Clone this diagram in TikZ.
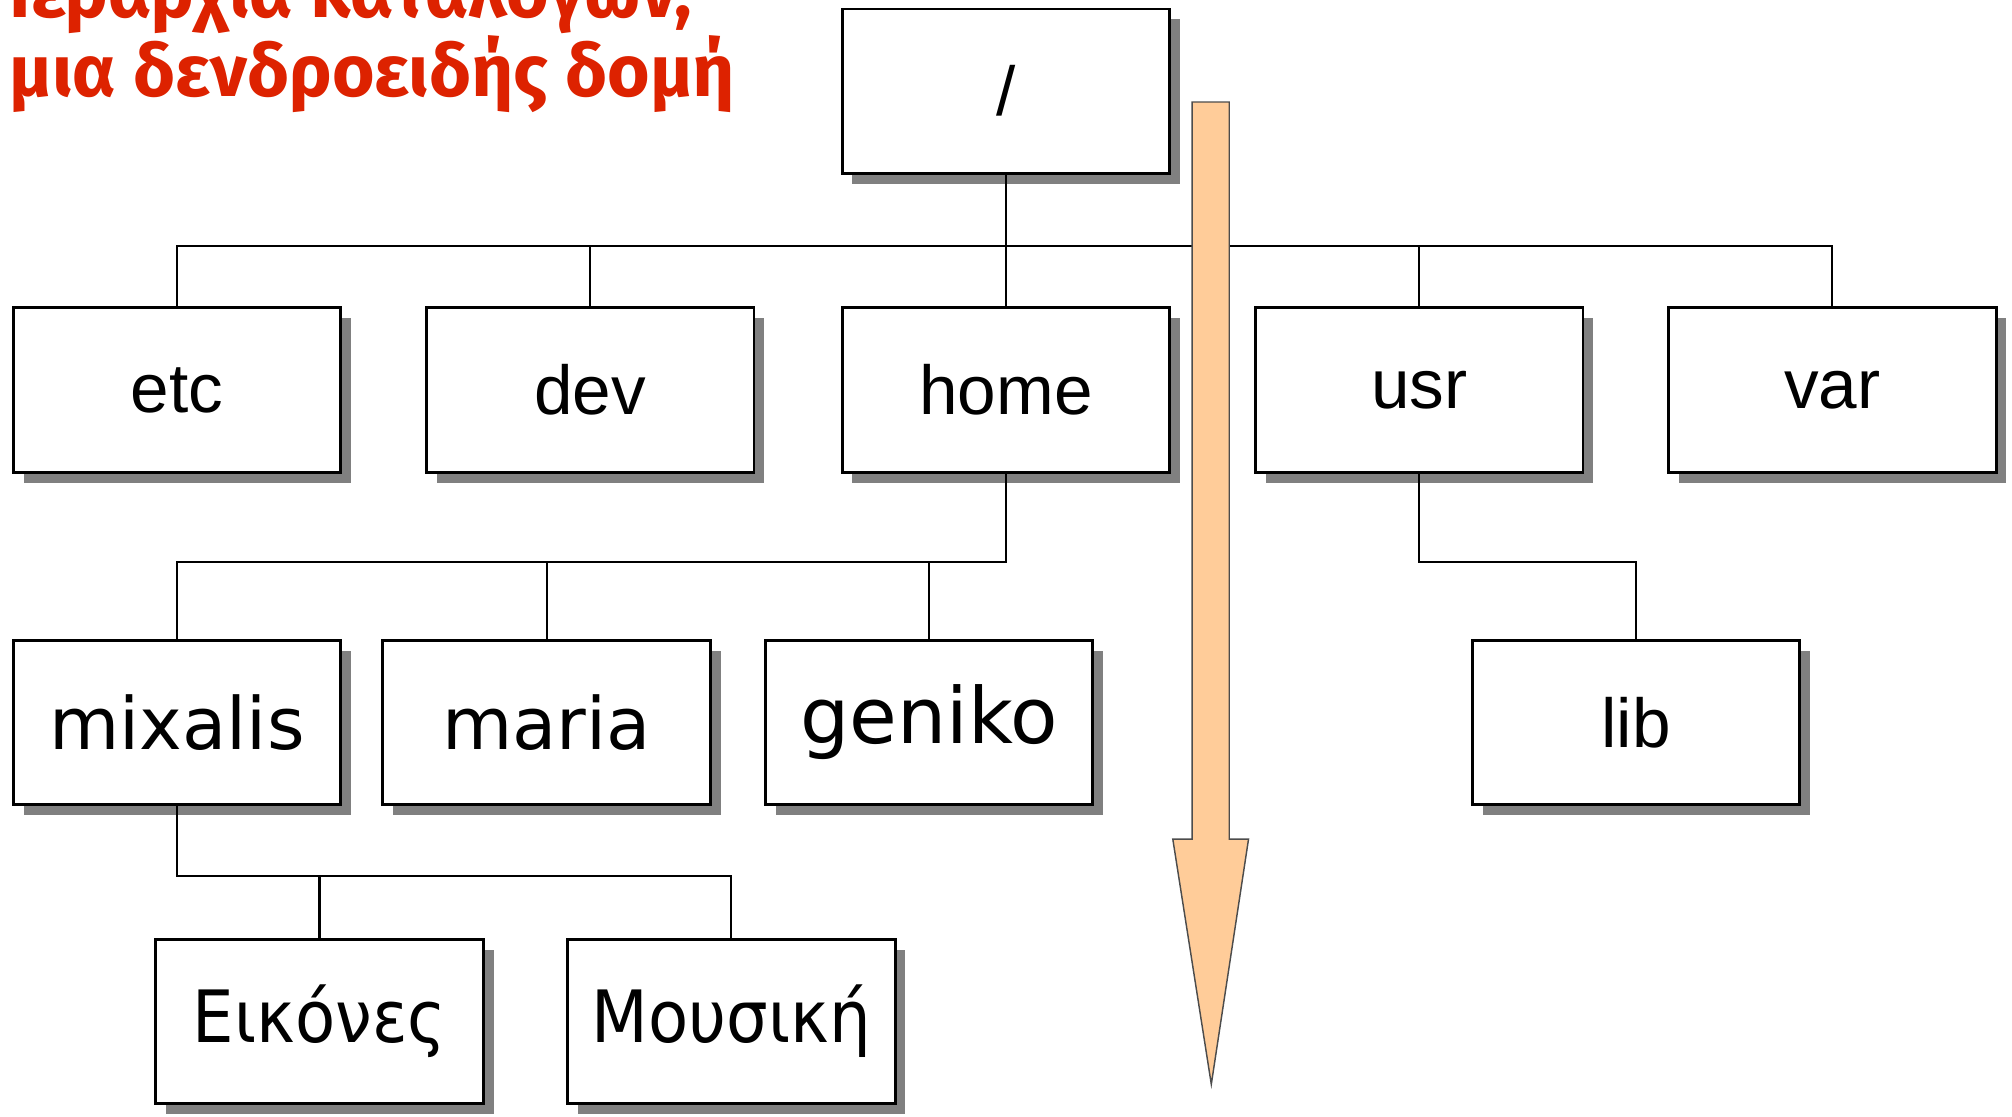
\documentclass[tikz,border=0pt]{standalone}
\usepackage{fontspec}
\setmainfont{Liberation Sans}
\newfontfamily\dejavu{DejaVu Sans}
\newfontfamily\dejavunarrow[FakeStretch=0.91]{DejaVu Sans}
\newfontfamily\titlefont{Fira Sans}
\usetikzlibrary{shadows}
\definecolor{titlered}{RGB}{221,34,0}
\definecolor{peach}{RGB}{255,204,153}
\definecolor{shadowgray}{RGB}{128,128,128}
\tikzset {dirbox/.style={draw,line width=0.8pt,fill=white,
    minimum width=3.19cm,minimum height=1.6cm,inner sep=0pt,
    drop shadow={shadow xshift=0.1cm,shadow yshift=-0.1cm,fill=shadowgray,opacity=1}}}
\tikzset {sysdir/.style={dirbox,font=\fontsize{19.2}{23}\selectfont}}
\tikzset {userdir/.style={dirbox,font=\dejavu\fontsize{20}{24}\selectfont}}
\tikzset {subdir/.style={dirbox,font=\dejavunarrow\fontsize{20}{24}\selectfont}}
\tikzset {link/.style={line width=0.6pt}}
\tikzset {heading/.style={anchor=base west,inner sep=0pt,text=titlered,
    font=\titlefont\bfseries\fontsize{20.2}{24}\selectfont}}

\begin{document}
\begin{tikzpicture}[x=0.0125cm,y=-0.0125cm]
\useasboundingbox (0,0) rectangle (1568,870.5);
\clip (0,0) rectangle (1568,870.5);

% Title
\node[heading] (title1) at (7,14) {Ιεραρχία καταλόγων,};
\node[heading] (title2) at (7,75) {μια δενδροειδής δομή};

% Root and first level
\node[sysdir] (root) at (784,71) {/};
\node[sysdir] (etc)  at (138,304)  {etc};
\node[sysdir] (dev)  at (460,304)  {dev};
\node[sysdir] (home) at (784,304)  {home};
\node[sysdir] (usr)  at (1106,304) {usr};
\node[sysdir] (var)  at (1428,304) {var};

% Second level
\node[userdir] (mixalis) at (138,563) {mixalis};
\node[userdir] (maria)   at (426,563) {maria};
\node[userdir,font=\dejavu\fontsize{21.5}{25}\selectfont] (geniko) at (724,563) {geniko};
\node[sysdir]  (lib)     at (1275,563) {lib};

% Third level
\node[subdir] (eikones) at (249,796) {Εικόνες};
\node[subdir] (mousiki) at (570,796) {Μουσική};

% Connectors
\coordinate (bus1) at (0,192);
\coordinate (bus2) at (0,438);
\coordinate (bus3) at (0,683);

\draw [link] (etc.north) |- (var.north |- bus1) -- (var.north);
\draw [link] (root.south) -- (home.north);
\draw [link] (dev.north) -- (dev.north |- bus1);
\draw [link] (usr.north) -- (usr.north |- bus1);

\draw [link] (mixalis.north) |- (home.south |- bus2) -- (home.south);
\draw [link] (maria.north) -- (maria.north |- bus2);
\draw [link] (geniko.north) -- (geniko.north |- bus2);
\draw [link] (usr.south) |- (lib.north |- bus2) -- (lib.north);

\draw [link] (mixalis.south) |- (mousiki.north |- bus3) -- (mousiki.north);
\draw [link] (eikones.north) -- (eikones.north |- bus3);

% Big arrow
\filldraw [fill=peach,draw=black!70,line width=0.4pt]
   (929,79.5) -- (958,79.5) -- (958,654) -- (973,654) -- (944,845)
   -- (914,654) -- (929,654) -- cycle;
\end{tikzpicture}
\end{document}
